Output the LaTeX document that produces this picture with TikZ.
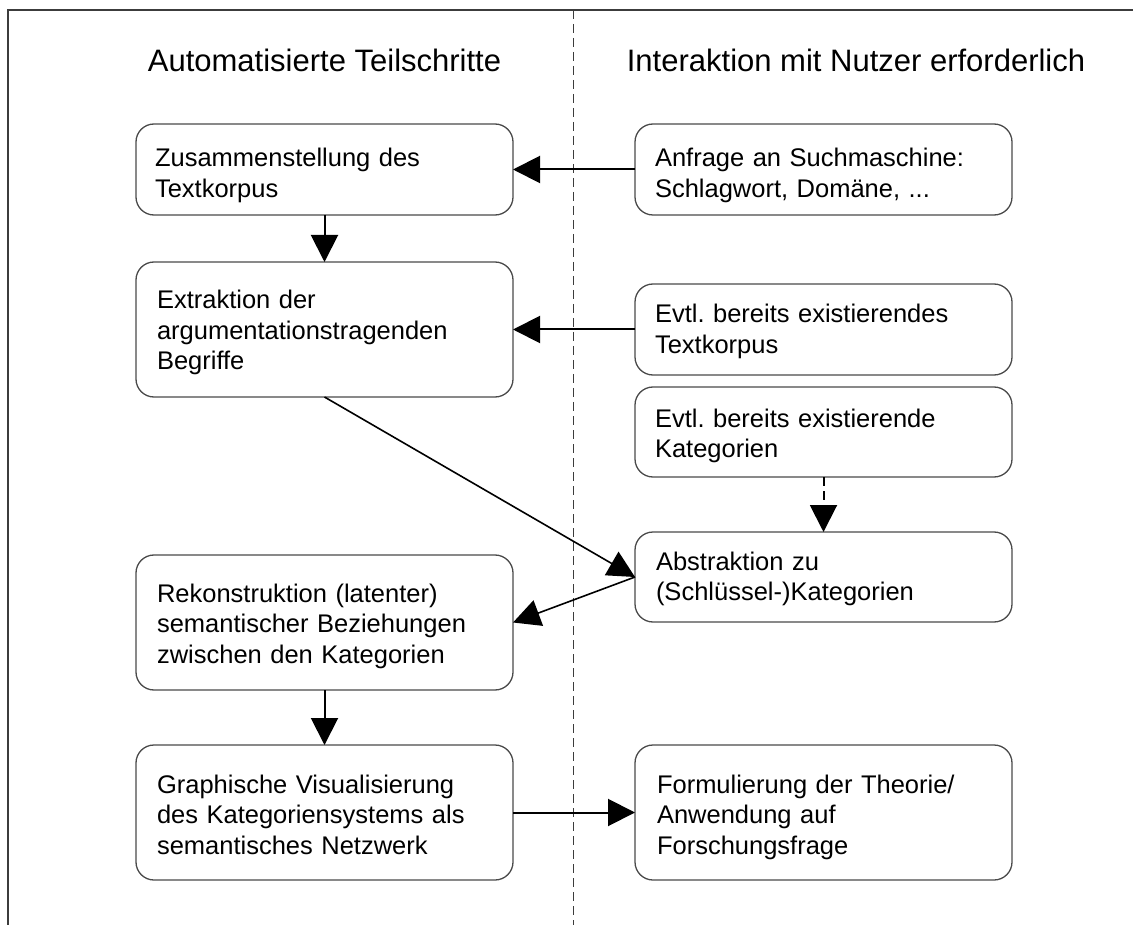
\documentclass[tikz,border=0pt]{standalone}
\usepackage{fontspec}
\setmainfont{Liberation Sans}
\usetikzlibrary{arrows.meta}
\frenchspacing

\definecolor{framegray}{HTML}{3C3C3C}
\definecolor{boxgray}{HTML}{4A4A4A}

\begin{document}
\begin{tikzpicture}[x=1pt, y=-1pt,
  every node/.style={inner sep=0pt, outer sep=0pt},
  procbox/.style={draw=boxgray, line width=1.3pt, rounded corners=18pt,
    fill=white, minimum width=377pt, anchor=north west},
  boxtext/.style={anchor=base west, text width=350pt, align=left,
    font=\fontsize{25.5pt}{30.5pt}\selectfont},
  heading/.style={anchor=base, font=\fontsize{31pt}{36pt}\selectfont},
  flow/.style={line width=2pt, -{Triangle[length=27pt, width=27pt]}},
  slant/.style={line width=1.6pt, -{Triangle[length=27pt, width=27pt]}},
  optflow/.style={line width=2pt, dash pattern=on 9pt off 5pt,
    -{Triangle[length=27pt, width=27pt]}},
  divider/.style={draw=framegray, line width=1pt, dash pattern=on 9pt off 5pt}]

  \useasboundingbox (0,0) rectangle (1133,925);

  % outer frame (top and left edges) and column divider
  \coordinate (frameBL) at (8,925);
  \coordinate (frameTL) at (8,10);
  \coordinate (frameTR) at (1133,10);
  \draw[framegray, line width=1.2pt] (frameBL) -- (frameTL) -- (frameTR);
  \coordinate (divTop) at (573,10);
  \coordinate (divBot) at (573,925);
  \draw[divider] (divTop) -- (divBot);

  % column headings
  \node[heading] (hleft) at (324.5,72) {Automatisierte Teilschritte};
  \node[heading] (hright) at (856,72) {Interaktion mit Nutzer erforderlich};

  % left column: automated steps
  \node[procbox, minimum height=91pt] (b1) at (136,124) {};
  \node[boxtext] (t1) at (155,167) {Zusammenstellung des\\Textkorpus};

  \node[procbox, minimum height=135pt] (b3) at (136,262) {};
  \node[boxtext] (t3) at (157,309) {Extraktion der\\argumentationstragenden\\Begriffe};

  \node[procbox, minimum height=135pt] (b7) at (136,555) {};
  \node[boxtext] (t7) at (157,602) {Rekonstruktion (latenter)\\semantischer Beziehungen\\zwischen den Kategorien};

  \node[procbox, minimum height=135pt] (b8) at (136,745) {};
  \node[boxtext] (t8) at (157,793) {Graphische Visualisierung\\des Kategoriensystems als\\semantisches Netzwerk};

  % right column: user interaction
  \node[procbox, minimum height=91pt] (b2) at (635,124) {};
  \node[boxtext] (t2) at (655,167) {Anfrage an Suchmaschine:\\Schlagwort, Domäne, ...};

  \node[procbox, minimum height=91pt] (b4) at (635,284) {};
  \node[boxtext] (t4) at (655,323) {Evtl. bereits existierendes\\Textkorpus};

  \node[procbox, minimum height=90pt] (b5) at (635,387) {};
  \node[boxtext] (t5) at (655,427) {Evtl. bereits existierende\\Kategorien};

  \node[procbox, minimum height=90pt] (b6) at (635,532) {};
  \node[boxtext] (t6) at (656,570) {Abstraktion zu\\(Schlüssel-)Kategorien};

  \node[procbox, minimum height=135pt] (b9) at (635,745) {};
  \node[boxtext] (t9) at (657,793) {Formulierung der Theorie/\\Anwendung auf\\Forschungsfrage};

  % connectors
  \draw[flow] (b2.west) -- (b1.east);
  \draw[flow] (b1.south) -- (b3.north);
  \draw[flow] (b4.west) -- (b3.east);
  \draw[slant] (b3.south) -- (b6.west);
  \draw[slant] (b6.west) -- (b7.east);
  \draw[optflow] (b5.south) -- (b6.north);
  \draw[flow] (b7.south) -- (b8.north);
  \draw[flow] (b8.east) -- (b9.west);
\end{tikzpicture}
\end{document}
